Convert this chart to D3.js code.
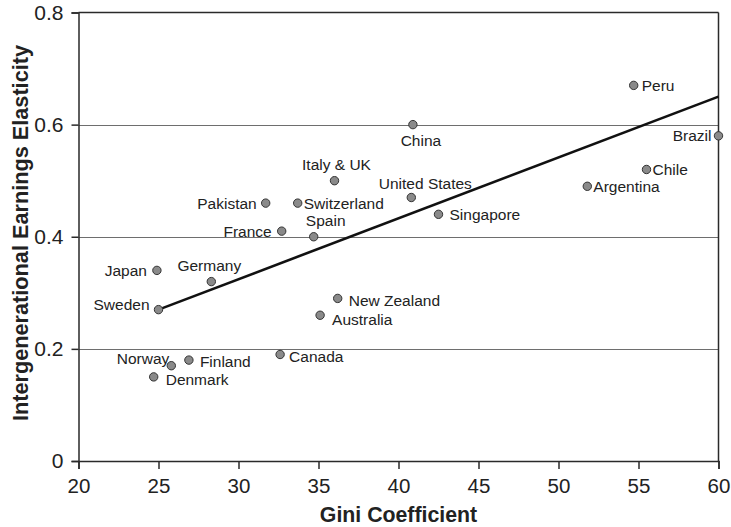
<!DOCTYPE html>
<html>
<head>
<meta charset="utf-8">
<script src="https://cdn.jsdelivr.net/npm/d3@7"></script>
<style>
  html, body { margin: 0; padding: 0; background: #fff; }
  svg { display: block; font-family: "Liberation Sans", Arial, Helvetica, sans-serif; }
</style>
</head>
<body>
<svg id="chart" width="731" height="527"></svg>
<script>
// ---- Data ----
const countries = ["Peru","China","Brazil","Chile","Argentina","United States","Singapore",
  "Italy & UK","Pakistan","Switzerland","France","Spain","Japan","Germany","Sweden",
  "Norway","Finland","Denmark","Canada","New Zealand","Australia"];
const gini = [54.7, 40.9, 60.0, 55.5, 51.8, 40.8, 42.5,
  36.0, 31.7, 33.7, 32.7, 34.7, 24.9, 28.3, 25.0,
  25.8, 26.9, 24.7, 32.6, 36.2, 35.1];
const elasticity = [0.67, 0.60, 0.58, 0.52, 0.49, 0.47, 0.44,
  0.50, 0.46, 0.46, 0.41, 0.40, 0.34, 0.32, 0.27,
  0.17, 0.18, 0.15, 0.19, 0.29, 0.26];
const trendX = [25, 60];
const trendY = [0.27, 0.65];
const xTicks = [20, 25, 30, 35, 40, 45, 50, 55, 60];
const yTicks = [0, 0.2, 0.4, 0.6, 0.8];
const xTitle = "Gini Coefficient";
const yTitle = "Intergenerational Earnings Elasticity";

// ---- Label placement (layout only) ----
const labelPlace = {
  "Peru":          {anchor:"start",  dx: 8,  dy: 0},
  "China":         {anchor:"middle", dx: 8,  dy: 16},
  "Brazil":        {anchor:"end",    dx: -7, dy: 0},
  "Chile":         {anchor:"start",  dx: 6,  dy: 0},
  "Argentina":     {anchor:"start",  dx: 6,  dy: 0},
  "United States": {anchor:"middle", dx: 14, dy: -14},
  "Singapore":     {anchor:"start",  dx: 11, dy: 0},
  "Italy & UK":    {anchor:"middle", dx: 2,  dy: -16},
  "Pakistan":      {anchor:"end",    dx: -9, dy: 0},
  "Switzerland":   {anchor:"start",  dx: 6,  dy: 0},
  "France":        {anchor:"end",    dx: -10,dy: 0},
  "Spain":         {anchor:"middle", dx: 12, dy: -16},
  "Japan":         {anchor:"end",    dx: -10,dy: 0},
  "Germany":       {anchor:"middle", dx: -2, dy: -16},
  "Sweden":        {anchor:"end",    dx: -9, dy: -5},
  "Norway":        {anchor:"end",    dx: -2, dy: -7},
  "Finland":       {anchor:"start",  dx: 11, dy: 1},
  "Denmark":       {anchor:"start",  dx: 12, dy: 3},
  "Canada":        {anchor:"start",  dx: 9,  dy: 2},
  "New Zealand":   {anchor:"start",  dx: 11, dy: 2},
  "Australia":     {anchor:"start",  dx: 12, dy: 4}
};

(function () {
const svg = d3.select("#chart");
const mLeft = 78.5, mRight = 718.5, mTop = 12.5, mBottom = 461;

const x = d3.scaleLinear().domain([20, 60]).range([mLeft, mRight]);
const y = d3.scaleLinear().domain([0, 0.8]).range([mBottom, mTop]);

const textColor = "#222";
const axisColor = "#2a2a2a";

// Gridlines
svg.append("g").selectAll("line")
  .data(yTicks.filter(d => d > 0 && d < 0.8))
  .join("line")
  .attr("x1", mLeft).attr("x2", mRight)
  .attr("y1", d => Math.round(y(d)) + 0.5).attr("y2", d => Math.round(y(d)) + 0.5)
  .attr("stroke", "#6e6e6e").attr("stroke-width", 1.2);

// Frame top and right
svg.append("line").attr("x1", mLeft).attr("x2", mRight).attr("y1", mTop).attr("y2", mTop)
  .attr("stroke", axisColor).attr("stroke-width", 1.5);
svg.append("line").attr("x1", mRight).attr("x2", mRight).attr("y1", mTop).attr("y2", mBottom)
  .attr("stroke", axisColor).attr("stroke-width", 1.5);

// X axis
const xAxis = svg.append("g").attr("transform", `translate(0,${mBottom})`)
  .call(d3.axisBottom(x).tickValues(xTicks).tickFormat(d3.format("d")).tickSizeOuter(0).tickSize(8).tickPadding(9));
xAxis.select(".domain").attr("stroke", axisColor).attr("stroke-width", 1.5);
xAxis.selectAll(".tick line").attr("stroke", axisColor).attr("stroke-width", 1.5);
xAxis.selectAll(".tick text").attr("font-size", 20.5).attr("fill", textColor)
  .attr("font-family", "Liberation Sans, Arial, sans-serif");

// Y axis
const yAxis = svg.append("g").attr("transform", `translate(${mLeft},0)`)
  .call(d3.axisLeft(y).tickValues(yTicks).tickFormat(d => d === 0 ? "0" : d3.format(".1f")(d)).tickSizeOuter(0).tickSize(7).tickPadding(8));
yAxis.select(".domain").attr("stroke", axisColor).attr("stroke-width", 1.5);
yAxis.selectAll(".tick line").attr("stroke", axisColor).attr("stroke-width", 1.5);
yAxis.selectAll(".tick text").attr("font-size", 21).attr("fill", textColor)
  .attr("font-family", "Liberation Sans, Arial, sans-serif");

// Trend line
const trend = trendX.map((v, i) => [v, trendY[i]]);
svg.append("path")
  .datum(trend)
  .attr("d", d3.line().x(d => x(d[0])).y(d => y(d[1])))
  .attr("fill", "none").attr("stroke", "#111").attr("stroke-width", 2.6);

// Points
const pts = countries.map((c, i) => ({name: c, gx: gini[i], ey: elasticity[i]}));
svg.append("g").selectAll("circle")
  .data(pts).join("circle")
  .attr("cx", d => x(d.gx)).attr("cy", d => y(d.ey)).attr("r", 4.2)
  .attr("fill", "#8a8a8a").attr("stroke", "#333").attr("stroke-width", 1);

// Labels
svg.append("g").selectAll("text")
  .data(pts).join("text")
  .attr("x", d => x(d.gx) + labelPlace[d.name].dx)
  .attr("y", d => y(d.ey) + labelPlace[d.name].dy)
  .attr("dy", "0.35em")
  .attr("text-anchor", d => labelPlace[d.name].anchor)
  .attr("font-size", 15.5).attr("fill", textColor)
  .text(d => d.name);

// Axis titles
svg.append("text")
  .attr("x", (mLeft + mRight) / 2).attr("y", 522)
  .attr("text-anchor", "middle").attr("font-size", 21.3).attr("font-weight", "bold")
  .attr("fill", textColor).text(xTitle);

svg.append("text")
  .attr("transform", `translate(28,${233}) rotate(-90)`)
  .attr("text-anchor", "middle").attr("font-size", 21.7).attr("font-weight", "bold")
  .attr("fill", textColor).text(yTitle);
})();
</script>
</body>
</html>
